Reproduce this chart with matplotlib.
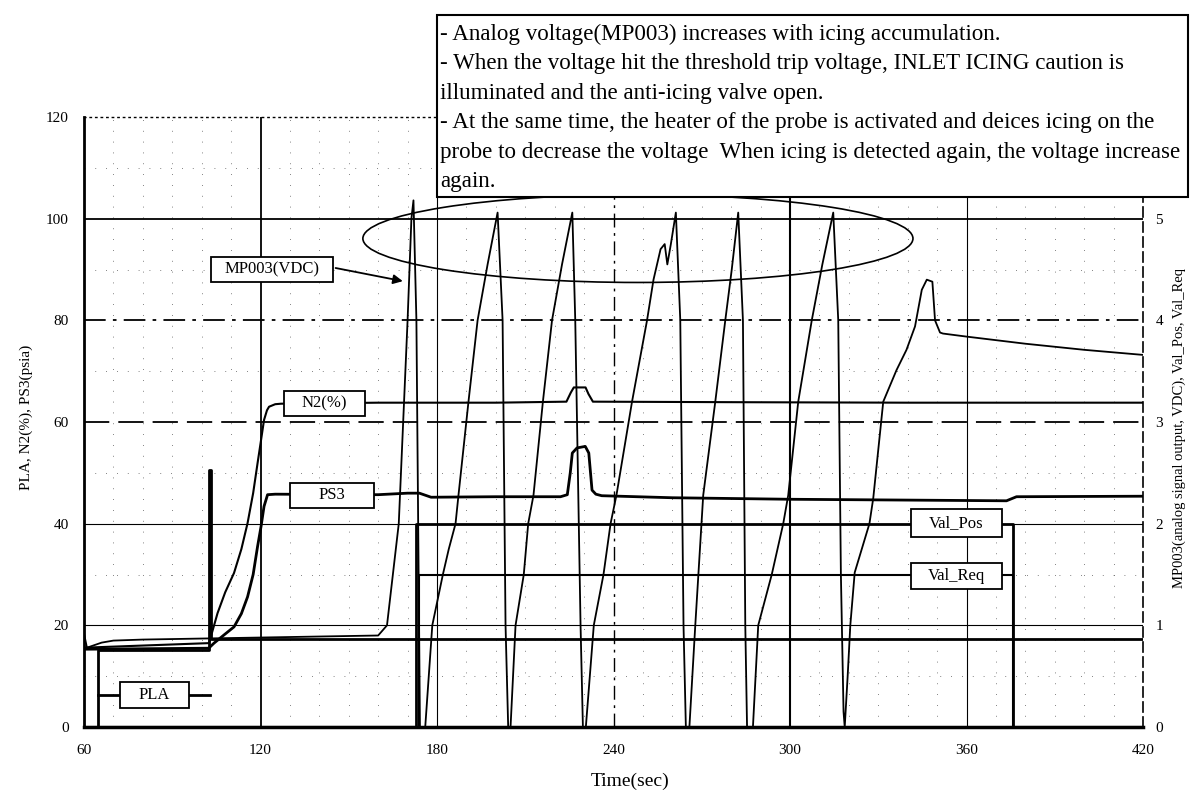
import matplotlib
matplotlib.use('Agg')
import matplotlib.pyplot as plt
from matplotlib.patches import Ellipse, Rectangle

plt.rcParams['font.family'] = ['Liberation Serif', 'DejaVu Serif']

W, H = 1192, 796

# axis ticks
x_ticks = [60, 120, 180, 240, 300, 360, 420]
y_ticks = [0, 20, 40, 60, 80, 100, 120]
y2_ticks = [0, 1, 2, 3, 4, 5]

# PLA (left axis)
pla_t = [60, 64.8, 64.8, 102.6, 102.6, 103.3, 103.3, 420]
pla_v = [0, 0, 15.2, 15.2, 50.5, 50.5, 17.3, 17.3]

# N2 (%) (left axis)
n2_t = [60, 102.5, 105.4, 108, 111, 113.5, 115.6, 117.5, 119, 120.2, 121.2, 122.2, 122.9, 125, 127,
        160, 200, 224, 225.5, 226.5, 230.5, 231.5, 233, 280, 340, 380, 420]
n2_v = [15.6, 16.5, 22.4, 26.5, 30.3, 35, 40.1, 46, 51.9, 56.5, 60.4, 62.3, 63.0, 63.5, 63.6,
        63.8, 63.8, 64, 65.8, 66.8, 66.8, 65.5, 64, 63.9, 63.8, 63.8, 63.8]

# PS3 (psia) (left axis)
ps3_t = [60, 102.4, 104.2, 108, 111, 113.5, 115.6, 117.5, 119, 120.2, 121.2, 122.4, 125, 160, 170,
         174, 176, 178, 200, 222, 224.3, 225.3, 226, 227.6, 230.4, 231.6, 232.7, 234, 236, 260, 300,
         373.6, 377, 420]
ps3_v = [15.3, 15.5, 16.5, 18.3, 19.7, 22.3, 25.6, 30, 35.5, 39.5, 43.4, 45.7, 45.8, 45.7, 46,
         46, 45.6, 45.2, 45.3, 45.3, 45.7, 50, 53.9, 54.9, 55.2, 53.9, 46.6, 45.8, 45.5, 45.1, 44.8,
         44.5, 45.3, 45.4]

# MP003 analog voltage (right axis, VDC)
mp_t = [60, 61, 63, 66, 70, 80, 100, 120, 140, 160, 161.5, 163, 165, 167, 168.5, 170, 171.3, 172.0,
        173.0, 173.6, 174.2, 176.0, 178.4, 182, 184, 186.3, 187.3, 190.7, 193.8, 197.2, 200.6,
        202.3, 203.3, 204.2, 205.0, 206.7, 209.5, 211, 212.8, 216, 219.1, 222.5, 226,
        227, 228.8, 229.6, 230.6, 233.3, 236.6, 239, 241, 246.3, 251.4, 253.6, 256, 257.4, 258.3, 259.5, 261.2,
        262.7, 263.8, 264.6, 265.8, 267.8, 270.5, 274.6, 278, 280.2, 282.4,
        284, 284.8, 285.4, 287.4, 289.2, 293.8, 297.7, 299.4, 302.8, 307.4, 311, 314.7,
        316.4, 317.3, 318.2, 318.6, 319.6, 320.5, 322, 327, 328.3, 331.7, 336.2, 339.6, 342.5, 344.8,
        346.5, 348.4, 349.3, 351, 352, 360, 380, 400, 420]
mp_v = [0.92, 0.78, 0.80, 0.83, 0.85, 0.86, 0.87, 0.88, 0.89, 0.90, 0.95, 1.0, 1.5, 2.0, 3.0, 4.0, 5.0, 5.18,
        4.0, 2.0, 0.0, 0.0, 1.0, 1.5, 1.75, 2.0, 2.28, 3.2, 4.0, 4.55, 5.06,
        4.0, 1.0, 0.0, 0.0, 1.0, 1.5, 2.0, 2.28, 3.2, 4.0, 4.55, 5.06,
        4.0, 1.0, 0.0, 0.0, 1.0, 1.5, 2.0, 2.28, 3.2, 4.0, 4.4, 4.7, 4.75, 4.55, 4.75, 5.06,
        4.0, 1.0, 0.0, 0.0, 1.0, 2.28, 3.2, 4.0, 4.5, 5.06,
        4.0, 1.0, 0.0, 0.0, 1.0, 1.5, 2.0, 2.28, 3.2, 4.0, 4.55, 5.06,
        4.0, 1.5, 0.15, 0.0, 0.5, 1.0, 1.52, 2.0, 2.25, 3.2, 3.51, 3.71, 3.94, 4.3,
        4.4, 4.38, 4.0, 3.88, 3.87, 3.84, 3.77, 3.71, 3.66]

# anti-icing valve position / request (right axis)
vpos_t = [60, 172.7, 172.7, 375.8, 375.8, 420]
vpos_v = [0, 0, 2.0, 2.0, 0, 0]
vreq_t = [60, 173.8, 173.8, 375.8, 375.8, 420]
vreq_v = [0, 0, 1.5, 1.5, 0, 0]

note_lines = [
    "- Analog voltage(MP003) increases with icing accumulation.",
    "- When the voltage hit the threshold trip voltage, INLET ICING caution is",
    "illuminated and the anti-icing valve open.",
    "- At the same time, the heater of the probe is activated and deices icing on the",
    "probe to decrease the voltage  When icing is detected again, the voltage increase",
    "again.",
]

fig = plt.figure(figsize=(W / 100, H / 100), dpi=100)
ax = fig.add_axes([84 / W, 69 / H, 1059 / W, 610 / H])
ax2 = ax.twinx()

ax.set_xlim(60, 420)
ax.set_ylim(0, 120)
ax2.set_ylim(0, 6)
ax.set_xticks(x_ticks)
ax.set_yticks(y_ticks)
ax2.set_yticks(y2_ticks)
ax.tick_params(length=0, labelsize=11)
ax.tick_params(axis='x', pad=12)
ax.tick_params(axis='y', pad=11)
ax2.tick_params(length=0, labelsize=11, pad=9)

# minor dotted grid (speckled look of the original)
for xv in range(70, 420, 10):
    if xv not in x_ticks:
        ax.axvline(xv, color='0.35', lw=0.6, ls=(0, (1, 12)), zorder=0)
for yv in range(10, 120, 10):
    if yv not in y_ticks:
        ax.axhline(yv, color='0.35', lw=0.6, ls=(0, (1, 12)), zorder=0)

# major grid, mixed styles as in the original
h_styles = {20: ('-', 0.8), 40: ('-', 0.8), 60: ((0, (14, 5)), 1.3), 80: ((0, (12, 4, 2, 4)), 1.3), 100: ('-', 1.3)}
for yv, (ls, lw) in h_styles.items():
    ax.axhline(yv, color='black', ls=ls, lw=lw, zorder=1)
v_styles = {120: ('-', 1.3), 180: ('-', 0.8), 240: ((0, (10, 4, 2, 4)), 1.0), 300: ('-', 1.5), 360: ('-', 0.8)}
for xv, (ls, lw) in v_styles.items():
    ax.axvline(xv, color='black', ls=ls, lw=lw, zorder=1)

ax.plot(pla_t, pla_v, color='black', lw=2.0, zorder=3)
ax.plot(n2_t, n2_v, color='black', lw=1.5, zorder=3)
ax.plot(ps3_t, ps3_v, color='black', lw=2.0, zorder=3)
ax2.plot(mp_t, mp_v, color='black', lw=1.3, zorder=3)
ax2.plot(vpos_t, vpos_v, color='black', lw=2.0, zorder=3)
ax2.plot(vreq_t, vreq_v, color='black', lw=1.5, zorder=3)

# spines
ax.spines['left'].set_linewidth(2.0)
ax.spines['bottom'].set_linewidth(2.5)
ax.spines['top'].set_linestyle((0, (1, 3)))
ax.spines['top'].set_linewidth(1.0)
ax.spines['right'].set_visible(False)
for s in ['left', 'top', 'bottom']:
    ax2.spines[s].set_visible(False)
ax2.spines['right'].set_linestyle((0, (6, 3)))
ax2.spines['right'].set_linewidth(1.2)

ax.set_xlabel('Time(sec)', fontsize=14)
ax.xaxis.set_label_coords(0.516, -0.075)
ax.set_ylabel('PLA, N2(%), PS3(psia)', fontsize=11)
ax.yaxis.set_label_coords(-0.048, 0.508)
ax2.set_ylabel('MP003(analog signal output, VDC), Val_Pos, Val_Req', fontsize=10.5)
ax2.yaxis.set_label_coords(1.028, 0.49)

# curve labels (boxes in left-axis data units)
tr = ax.transData


def tag(xc, yc, w, h, s):
    ax2.add_patch(Rectangle((xc - w / 2, yc - h / 2), w, h, transform=tr, facecolor='white',
                            edgecolor='black', lw=1.3, zorder=6))
    ax2.text(xc, yc, s, transform=tr, ha='center', va='center', fontsize=12, zorder=7)


ax2.plot([64.8, 103.0], [6.3, 6.3], transform=tr, color='black', lw=2.0, zorder=4)
tag(123.8, 90.0, 41.4, 4.9, 'MP003(VDC)')
tag(141.7, 63.7, 27.5, 4.9, 'N2(%)')
tag(144.2, 45.6, 28.5, 4.9, 'PS3')
tag(83.9, 6.3, 23.4, 5.1, 'PLA')
tag(356.6, 40.2, 30.9, 5.5, 'Val_Pos')
tag(356.6, 29.7, 30.9, 5.1, 'Val_Req')

ax2.annotate('', xy=(169.3, 87.6), xytext=(144.6, 90.4), xycoords=tr, textcoords=tr,
             arrowprops=dict(arrowstyle='-|>', color='black', lw=1.3, mutation_scale=14), zorder=7)

ax2.add_patch(Ellipse((248.3, 96.1), 187, 17.3, transform=tr, fill=False, edgecolor='black',
                      lw=1.2, zorder=5))

# explanation box on top of the chart
fig.add_artist(Rectangle((437 / W, 1 - 197 / H), 751 / W, 182 / H, transform=fig.transFigure,
                         facecolor='white', edgecolor='black', lw=1.5, zorder=8))
for i, line in enumerate(note_lines):
    base = 40 + 29.4 * i
    fig.text(440 / W, 1 - base / H, line, ha='left', va='baseline', fontsize=16.6, zorder=9)

fig.savefig('out.png', dpi=100)
